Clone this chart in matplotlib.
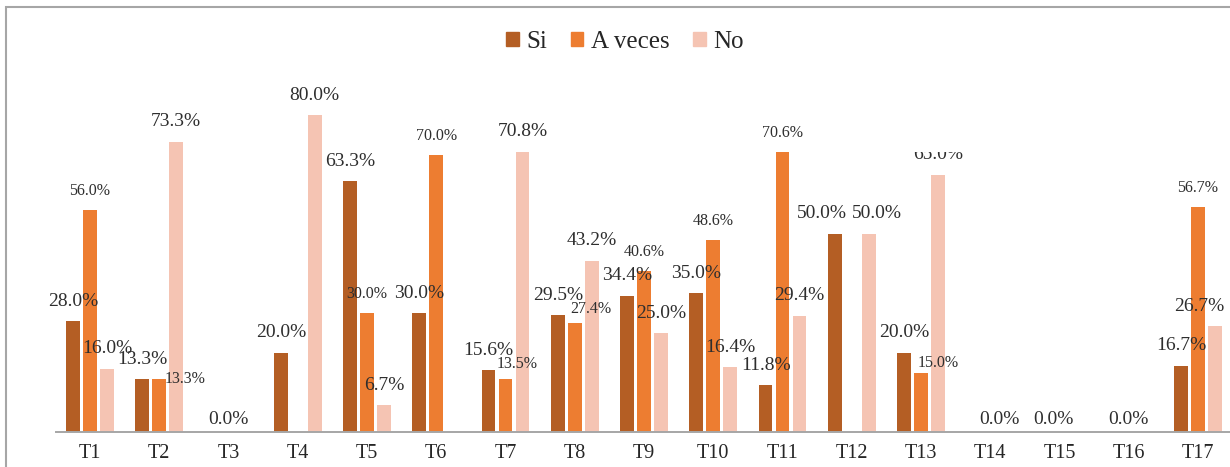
import matplotlib
matplotlib.use("Agg")
import matplotlib.pyplot as plt
from matplotlib.patches import Rectangle
from matplotlib.transforms import Bbox, TransformedBbox, IdentityTransform
import numpy as np

plt.rcParams['font.family'] = ['Liberation Serif', 'DejaVu Serif']

categories = ['T1', 'T2', 'T3', 'T4', 'T5', 'T6', 'T7', 'T8', 'T9', 'T10',
              'T11', 'T12', 'T13', 'T14', 'T15', 'T16', 'T17']
series_names = ['Si', 'A veces', 'No']
si = [28.0, 13.3, 0.0, 20.0, 63.3, 30.0, 15.6, 29.5, 34.4, 35.0, 11.8, 50.0, 20.0, 0.0, 0.0, 0.0, 16.7]
a_veces = [56.0, 13.3, 0.0, 0.0, 30.0, 70.0, 13.5, 27.4, 40.6, 48.6, 70.6, 0.0, 15.0, 0.0, 0.0, 0.0, 56.7]
no = [16.0, 73.3, 0.0, 80.0, 6.7, 0.0, 70.8, 43.2, 25.0, 16.4, 29.4, 50.0, 65.0, 0.0, 0.0, 0.0, 26.7]

colors = ['#B45E24', '#ED7D31', '#F5C4B3']
text_color = '#2E2E2E'

# label nudges (px): (series index, category index) -> (dx, dy above bar top)
nudges = {
    (1, 1): (26, 0),
    (1, 6): (12, 15),
    (1, 7): (16, 14),
    (1, 12): (17, 10),
    (0, 11): (-13, 20),
    (2, 11): (8, 20),
    (2, 16): (-16, 20),
}
zero_nudges = {13: 9, 14: -6}

W, H = 1230, 467
dpi = 100
fig = plt.figure(figsize=(W / dpi, H / dpi), dpi=dpi)

# outer chart border
fig.add_artist(Rectangle((6 / W, -0.05), 1.1, 1 - 6.7 / H + 0.05, transform=fig.transFigure,
                         fill=False, edgecolor='#A6A6A6', linewidth=1.5))

ymax = 90.0
px_per_unit = 3.96
ax_h_px = ymax * px_per_unit
ax = fig.add_axes([56 / W, 35 / H, (W - 56) / W, ax_h_px / H])
ax.set_xlim(-(90 - 56) / 69.25, (W - 90) / 69.25)
ax.set_ylim(0, ymax)
ax.patch.set_alpha(0)

x = np.arange(len(categories))
bw = 0.2
off = 0.245
data = [si, a_veces, no]
for k, (vals, name, col) in enumerate(zip(data, series_names, colors)):
    ax.bar(x + (k - 1) * off, vals, width=bw, color=col, label=name, zorder=2)

px2pt = 72.0 / dpi
for k, vals in enumerate(data):
    for i, v in enumerate(vals):
        if v == 0:
            continue
        dx, dy = nudges.get((k, i), (0, 20 if k != 1 else 19))
        fs = 11.5 if k == 1 else 14
        t = ax.annotate(f'{v:.1f}%', xy=(x[i] + (k - 1) * off, v),
                        xytext=(dx * px2pt, dy * px2pt), textcoords='offset points',
                        ha='center', va='center', fontsize=fs, color=text_color,
                        annotation_clip=False, zorder=3)
        if (k, i) == (2, 12):
            t.set_clip_on(True)
            t.set_clip_box(TransformedBbox(Bbox([[0, 0], [W, H - 151.5]]), IdentityTransform()))

for i in range(len(categories)):
    if si[i] == 0 and a_veces[i] == 0 and no[i] == 0:
        dx = zero_nudges.get(i, 0)
        ax.annotate('0.0%', xy=(x[i], 0), xytext=(dx * px2pt, 13 * px2pt),
                    textcoords='offset points', ha='center', va='center',
                    fontsize=14, color=text_color, annotation_clip=False)

ax.set_xticks(x)
ax.set_xticklabels(categories, fontsize=14.5, color='#262626')
ax.tick_params(axis='x', length=0, pad=8.5)
ax.set_yticks([])
for s in ['top', 'right', 'left']:
    ax.spines[s].set_visible(False)
ax.spines['bottom'].set_color('#A6A6A6')
ax.spines['bottom'].set_linewidth(1.4)
ax.spines['bottom'].set_zorder(4)

handles = [Rectangle((0, 0), 1, 1, color=c) for c in colors]
fig.legend(handles, series_names, loc='center', bbox_to_anchor=(625 / W, 1 - 41.7 / H),
           ncol=3, frameon=False, fontsize=18, handlelength=0.5, handleheight=0.5,
           handletextpad=0.3, columnspacing=0.95, borderpad=0, labelcolor='#262626')

fig.savefig('out.png', dpi=dpi)
